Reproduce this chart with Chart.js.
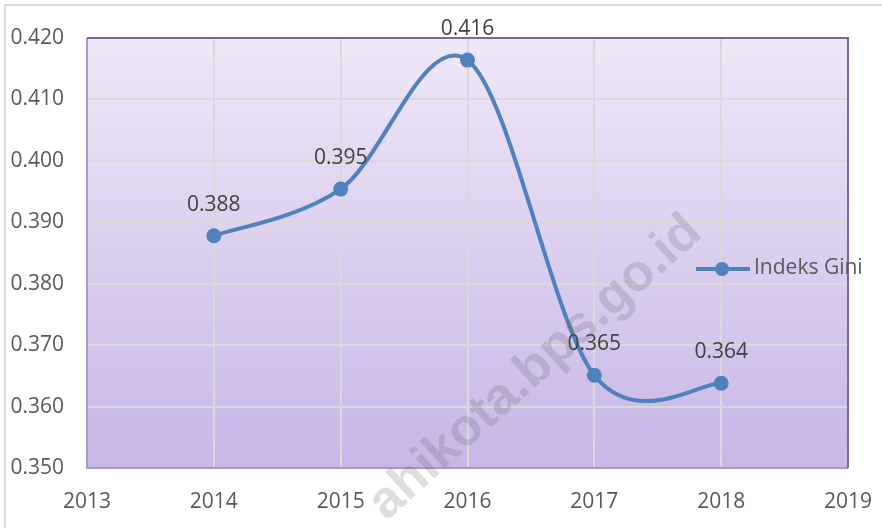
<!DOCTYPE html>
<html>
<head>
<meta charset="utf-8">
<script src="https://cdn.jsdelivr.net/npm/chart.js@4/dist/chart.umd.min.js"></script>
<style>
  html, body { margin: 0; padding: 0; background: #fff; }
  #wrap { width: 882px; height: 528px; }
</style>
</head>
<body>
<div id="wrap"><canvas id="chart" width="882" height="528"></canvas></div>
<script>
// data
const years = [2014, 2015, 2016, 2017, 2018];
const gini = [0.3878, 0.3954, 0.4164, 0.3651, 0.3638];
const seriesName = 'Indeks Gini';
const xRange = [2013, 2019];
const yRange = [0.350, 0.420];
const watermark = 'ahikota.bps.go.id';

const FONT = '"Open Sans", "Liberation Sans", sans-serif';
const LINE_COLOR = '#4F81BD';

// Excel-like smoothing: uniform catmull-rom (1/6 of neighbour span) instead of chart.js weighting
const excelSmooth = {
  id: 'excelSmooth',
  beforeDatasetDraw(chart, args) {
    const meta = args.meta;
    meta.dataset.updateControlPoints(chart.chartArea, meta.indexAxis);
    const pts = meta.data;
    pts.forEach((p, i) => {
      const prev = pts[i - 1] || p;
      const next = pts[i + 1] || p;
      const dx = (next.x - prev.x) / 6;
      const dy = (next.y - prev.y) / 6;
      p.cp1x = p.x - dx;
      p.cp1y = p.y - dy;
      p.cp2x = p.x + dx;
      p.cp2y = p.y + dy;
    });
  }
};

// plot background, frame, legend, labels and watermark
const decor = {
  id: 'decor',
  beforeDraw(chart) {
    const { ctx, chartArea: a } = chart;
    ctx.save();
    ctx.fillStyle = '#fff';
    ctx.fillRect(0, 0, chart.width, chart.height);
    ctx.strokeStyle = '#D9D9D9';
    ctx.lineWidth = 2;
    ctx.strokeRect(5, 5, chart.width + 10, chart.height + 10);
    const g = ctx.createLinearGradient(0, a.top, 0, a.bottom);
    g.addColorStop(0, '#EEE8F7');
    g.addColorStop(1, '#C8B6E7');
    ctx.fillStyle = g;
    ctx.fillRect(a.left, a.top, a.right - a.left, a.bottom - a.top);
    ctx.restore();
  },
  beforeDatasetsDraw(chart) {
    const { ctx, chartArea: a } = chart;
    ctx.save();
    ctx.lineWidth = 2;
    ctx.strokeStyle = '#A99CB8';
    ctx.beginPath();
    ctx.moveTo(a.left, a.top);
    ctx.lineTo(a.left, a.bottom);
    ctx.lineTo(a.right, a.bottom);
    ctx.stroke();
    ctx.strokeStyle = '#8064A2';
    ctx.beginPath();
    ctx.moveTo(a.left, a.top);
    ctx.lineTo(a.right, a.top);
    ctx.lineTo(a.right, a.bottom);
    ctx.stroke();
    ctx.restore();
  },
  afterDatasetsDraw(chart) {
    const { ctx } = chart;
    const meta = chart.getDatasetMeta(0);
    ctx.save();
    ctx.font = '21px ' + FONT;
    ctx.fillStyle = '#404040';
    ctx.textAlign = 'center';
    ctx.textBaseline = 'middle';
    meta.data.forEach((pt, i) => {
      ctx.fillText(gini[i].toFixed(3), pt.x, pt.y - 31);
    });

    // legend sitting inside the plot
    const ly = 269;
    ctx.strokeStyle = LINE_COLOR;
    ctx.lineWidth = 4;
    ctx.beginPath();
    ctx.moveTo(696, ly);
    ctx.lineTo(750, ly);
    ctx.stroke();
    ctx.fillStyle = LINE_COLOR;
    ctx.beginPath();
    ctx.arc(722, ly, 7, 0, Math.PI * 2);
    ctx.fill();
    ctx.fillStyle = '#595959';
    ctx.textAlign = 'left';
    ctx.fillText(seriesName, 754, ly - 1);

    // watermark
    ctx.translate(692, 222);
    ctx.rotate(-42 * Math.PI / 180);
    ctx.font = 'bold 52px "Liberation Sans", Arial, sans-serif';
    ctx.fillStyle = 'rgba(90, 90, 90, 0.2)';
    ctx.textAlign = 'right';
    ctx.textBaseline = 'alphabetic';
    ctx.fillText(watermark, 0, 18);
    ctx.restore();
  }
};

new Chart(document.getElementById('chart'), {
  type: 'line',
  data: {
    datasets: [{
      label: seriesName,
      data: years.map((y, i) => ({ x: y, y: gini[i] })),
      borderColor: LINE_COLOR,
      backgroundColor: LINE_COLOR,
      borderWidth: 4,
      pointRadius: 7.5,
      pointHoverRadius: 7.5,
      pointBackgroundColor: LINE_COLOR,
      pointBorderWidth: 0,
      tension: 0.4,
      fill: false,
    }]
  },
  options: {
    responsive: false,
    animation: false,
    layout: { padding: { top: 38, right: 34, left: 0, bottom: 0 } },
    plugins: {
      legend: { display: false },
      tooltip: { enabled: false },
    },
    scales: {
      x: {
        type: 'linear',
        min: xRange[0],
        max: xRange[1],
        afterFit(scale) {
          scale.height = 60;
          scale.paddingLeft = 0;
          scale.paddingRight = 0;
        },
        ticks: {
          stepSize: 1,
          padding: 21,
          color: '#595959',
          font: { family: FONT, size: 21 },
          callback: v => String(v),
        },
        grid: { color: '#D9D9D9', lineWidth: 2, drawTicks: false },
        border: { display: false },
      },
      y: {
        min: yRange[0],
        max: yRange[1],
        afterFit(scale) {
          scale.width = 87;
          scale.paddingTop = 0;
          scale.paddingBottom = 0;
        },
        ticks: {
          stepSize: 0.01,
          padding: 23,
          color: '#595959',
          font: { family: FONT, size: 21 },
          callback: v => v.toFixed(3),
        },
        grid: { color: '#D9D9D9', lineWidth: 2, drawTicks: false },
        border: { display: false },
      }
    }
  },
  plugins: [excelSmooth, decor]
});
</script>
</body>
</html>
